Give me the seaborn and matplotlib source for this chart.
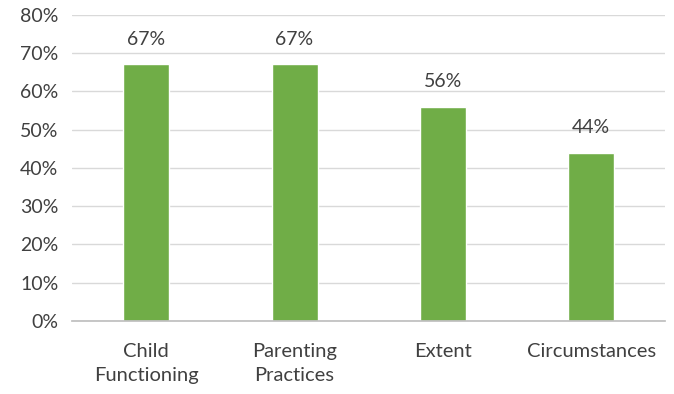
import matplotlib
matplotlib.use("Agg")
import matplotlib.pyplot as plt
import seaborn as sns
import pandas as pd
from matplotlib.ticker import PercentFormatter

categories = ["Child\nFunctioning", "Parenting\nPractices", "Extent", "Circumstances"]
values = [0.67, 0.67, 0.56, 0.44]
value_labels = ["67%", "67%", "56%", "44%"]

sns.set_theme(style="white")
plt.rcParams['font.family'] = ['Lato', 'DejaVu Sans']

df = pd.DataFrame({"cat": categories, "val": values})
fig = plt.figure(figsize=(6.74, 3.94), dpi=100)
ax = fig.add_axes([0.107, 0.185, 0.88, 0.778])
sns.barplot(data=df, x="cat", y="val", color="#70AD47", width=0.31, ax=ax, saturation=1)
ax.set_ylim(0, 0.8)
ax.set_yticks([i / 10 for i in range(9)])
ax.yaxis.set_major_formatter(PercentFormatter(1.0, decimals=0))
ax.grid(axis="y", color="#D9D9D9", linewidth=1)
ax.set_axisbelow(True)
for s in ["top", "right", "left"]:
    ax.spines[s].set_visible(False)
ax.spines["bottom"].set_color("#BFBFBF")
ax.tick_params(axis="y", length=0, labelsize=14, colors="#404040", pad=10)
ax.tick_params(axis="x", length=0, labelsize=14.5, colors="#404040", pad=16)
ax.set_xticks(range(len(categories)))
ax.set_xticklabels(categories)
for t in ax.xaxis.get_major_ticks():
    t.label1.set_linespacing(1.45)
ax.set_xlabel("")
ax.set_ylabel("")
for i, (v, t) in enumerate(zip(values, value_labels)):
    ax.text(i, v + 0.042, t, ha="center", va="bottom", fontsize=14, color="#404040")
fig.savefig("out.png", dpi=100)
